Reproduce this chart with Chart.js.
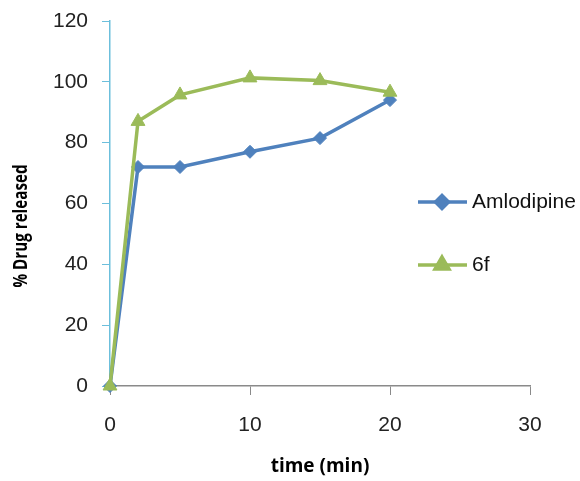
<!DOCTYPE html>
<html>
<head>
<meta charset="utf-8">
<script src="https://cdn.jsdelivr.net/npm/chart.js@4"></script>
<style>
  html, body { margin: 0; padding: 0; background: #fff; }
  #wrap { width: 580px; height: 481px; }
</style>
</head>
<body>
<div id="wrap"><canvas id="releaseChart"></canvas></div>
<script>
// data
const timeMin = [0, 2, 5, 10, 15, 20];
const amlodipine = [0, 72, 72, 77, 81.5, 94];
const sixF = [0, 87, 95.7, 101.3, 100.4, 96.6];
const seriesNames = ['Amlodipine', '6f'];
const xTicks = [0, 10, 20, 30];
const yTicks = [0, 20, 40, 60, 80, 100, 120];

const blue = '#4f81bd';
const green = '#9bbb59';

function toPoints(ys) {
  return timeMin.map((t, i) => ({ x: t, y: ys[i] }));
}

// legend and y title drawn by hand so they sit where the original has them
const extras = {
  id: 'extras',
  afterDraw(chart) {
    const ctx = chart.ctx;
    ctx.save();
    const rows = [202, 265];
    chart.data.datasets.forEach((ds, i) => {
      const y = rows[i];
      ctx.strokeStyle = ds.borderColor;
      ctx.lineWidth = 3.5;
      ctx.beginPath();
      ctx.moveTo(418, y);
      ctx.lineTo(467, y);
      ctx.stroke();
      ctx.fillStyle = ds.backgroundColor;
      Chart.helpers.drawPoint(ctx, {
        pointStyle: ds.pointStyle,
        radius: ds.pointRadius,
        borderWidth: 1
      }, 442, y);
      ctx.fillStyle = '#111';
      ctx.font = '21px "Liberation Sans"';
      ctx.textBaseline = 'middle';
      ctx.textAlign = 'left';
      ctx.fillText(ds.label, 472, y);
    });

    ctx.translate(22, 226);
    ctx.rotate(-Math.PI / 2);
    ctx.scale(0.8, 1);
    ctx.font = 'bold 19px "Open Sans"';
    ctx.fillStyle = '#000';
    ctx.textAlign = 'center';
    ctx.textBaseline = 'middle';
    ctx.fillText('% Drug released', 0, 0);
    ctx.restore();
  }
};

new Chart(document.getElementById('releaseChart'), {
  type: 'line',
  data: {
    datasets: [{
      label: seriesNames[0],
      data: toPoints(amlodipine),
      borderColor: blue,
      backgroundColor: blue,
      borderWidth: 3.5,
      pointStyle: 'rectRot',
      pointRadius: 6.5,
      pointBorderWidth: 1,
      clip: false,
      order: 1
    }, {
      label: seriesNames[1],
      data: toPoints(sixF),
      borderColor: green,
      backgroundColor: green,
      borderWidth: 3.5,
      pointStyle: 'triangle',
      pointRadius: 8,
      pointBorderWidth: 1,
      clip: false,
      order: 0
    }]
  },
  options: {
    responsive: true,
    maintainAspectRatio: false,
    animation: false,
    layout: { padding: { top: 21, right: 50, left: 0, bottom: 0 } },
    plugins: {
      legend: { display: false },
      tooltip: { enabled: false }
    },
    scales: {
      x: {
        type: 'linear',
        min: 0,
        max: 30,
        afterBuildTicks(scale) {
          scale.ticks = xTicks.map(v => ({ value: v }));
        },
        afterFit(scale) { scale.height = 95; },
        grid: {
          drawOnChartArea: false,
          drawTicks: true,
          tickLength: 9,
          color: '#8a8a8a'
        },
        border: { color: '#8a8a8a', width: 1.5 },
        ticks: {
          padding: 18,
          color: '#222',
          font: { family: 'Liberation Sans', size: 21 }
        },
        title: {
          display: true,
          text: 'time (min)',
          color: '#000',
          font: { family: 'Open Sans', size: 19, weight: 'bold' },
          padding: { top: 0, bottom: 3 }
        }
      },
      y: {
        min: 0,
        max: 120,
        afterBuildTicks(scale) {
          scale.ticks = yTicks.map(v => ({ value: v }));
        },
        afterFit(scale) {
          scale.width = 110;
          scale.paddingTop = 0;
          scale.paddingBottom = 0;
        },
        grid: {
          drawOnChartArea: false,
          drawTicks: true,
          tickLength: 8,
          color: '#6cbfdc'
        },
        border: { color: '#6cbfdc', width: 1.5 },
        ticks: {
          padding: 14,
          color: '#222',
          font: { family: 'Liberation Sans', size: 21 }
        }
      }
    }
  },
  plugins: [extras]
});
</script>
</body>
</html>
